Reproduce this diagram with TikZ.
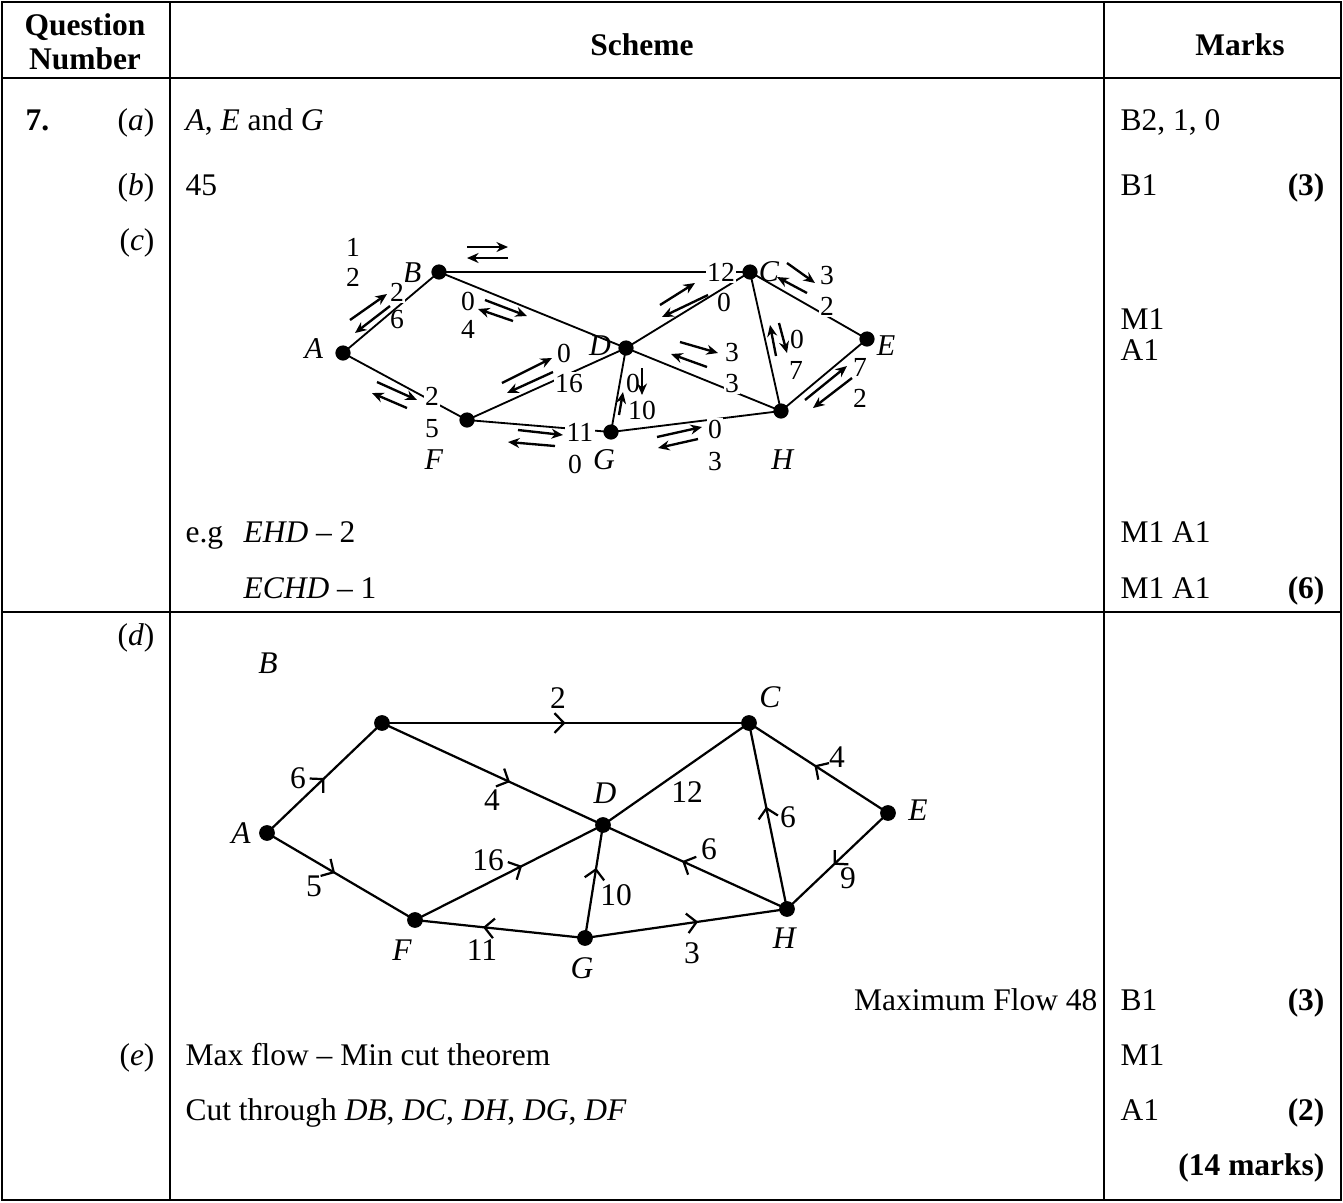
\documentclass[tikz,border=0pt]{standalone}
\usepackage{fontspec}
\setmainfont{Liberation Serif}
\usetikzlibrary{arrows.meta,decorations.markings}
\tikzset{
  tbl/.style={line width=1pt},
  t/.style={anchor=base west, inner sep=0pt, font=\fontsize{12}{14}\selectfont},
  tr/.style={anchor=base east, inner sep=0pt, font=\fontsize{12}{14}\selectfont},
  hd/.style={inner sep=0pt, font=\fontsize{12}{14}\selectfont\bfseries, align=center},
  udot/.style={circle, fill=black, inner sep=0pt, minimum size=5.8pt},
  ldot/.style={circle, fill=black, inner sep=0pt, minimum size=6pt},
  ulab/.style={inner sep=0.6pt, font=\fontsize{10.5}{12}\selectfont},
  uvlab/.style={inner sep=0.6pt, font=\fontsize{11.5}{13}\selectfont},
  uwlab/.style={ulab, fill=white},
  llab/.style={inner sep=0.6pt, font=\fontsize{12}{14}\selectfont},
  uedge/.style={line width=0.7pt},
  ledge/.style={line width=0.85pt},
  farr/.style={line width=0.9pt, -{Stealth[length=4.4pt,width=3.8pt]}},
  midarr/.style={postaction={decorate, decoration={markings,
      mark=at position #1 with {\arrow{Straight Barb[length=3.6pt,width=7.5pt,line width=0.85pt]}}}}}
}
\begin{document}
\begin{tikzpicture}[x=0.381pt,y=-0.381pt]
\useasboundingbox (0,0) rectangle (1343,1202);
% ---------- table ----------
\draw[tbl] (2,2) rectangle (1341,1200);
\draw[tbl] (2,78) -- (1341,78);
\draw[tbl] (2,612) -- (1341,612);
\draw[tbl] (170,2) -- (170,1200);
\draw[tbl] (1104,2) -- (1104,1200);
\node[hd] (hq) at (85,42) {Question\\[-1pt]Number};
\node[hd] (hs) at (642,45) {Scheme};
\node[hd] (hm) at (1240,45) {Marks};
% ---------- column 1 ----------
\node[t, font=\fontsize{12}{14}\selectfont\bfseries] (q7) at (25,130) {7.};
\node[tr] (pa) at (155,130) {(\textit{a})};
\node[tr] (pb) at (155,195) {(\textit{b})};
\node[tr] (pc) at (155,250) {(\textit{c})};
\node[tr] (pd) at (155,645) {(\textit{d})};
\node[tr] (pe) at (155,1065) {(\textit{e})};
% ---------- scheme text ----------
\node[t] (sa) at (185,130) {\textit{A}, \textit{E} and \textit{G}};
\node[t] (sb) at (185,195) {45};
\node[t] (eg) at (185,542) {e.g};
\node[t] (p1) at (243,542) {\textit{EHD} – 2};
\node[t] (p2) at (243,598) {\textit{ECHD} – 1};
\node[tr] (mf) at (1098,1010) {Maximum Flow 48};
\node[t] (mm) at (185,1065) {Max flow – Min cut theorem};
\node[t] (ct) at (185,1120) {Cut through \textit{DB}, \textit{DC}, \textit{DH}, \textit{DG}, \textit{DF}};
% ---------- marks ----------
\node[t] (m1) at (1120,130) {B2, 1, 0};
\node[t] (m2) at (1120,195) {B1};
\node[tr, font=\fontsize{12}{14}\selectfont\bfseries] (m2r) at (1325,195) {(3)};
\node[t] (m3) at (1120,329) {M1};
\node[t] (m4) at (1120,360) {A1};
\node[t] (m5) at (1120,542) {M1 A1};
\node[t] (m6) at (1120,598) {M1 A1};
\node[tr, font=\fontsize{12}{14}\selectfont\bfseries] (m6r) at (1325,598) {(6)};
\node[t] (m7) at (1120,1010) {B1};
\node[tr, font=\fontsize{12}{14}\selectfont\bfseries] (m7r) at (1325,1010) {(3)};
\node[t] (m8) at (1120,1065) {M1};
\node[t] (m9) at (1120,1120) {A1};
\node[tr, font=\fontsize{12}{14}\selectfont\bfseries] (m9r) at (1325,1120) {(2)};
\node[tr, font=\fontsize{12}{14}\selectfont\bfseries] (m10) at (1325,1175) {(14 marks)};
% ---------- upper graph (c) ----------
\node[udot] (uA) at (343,353) {};
\node[udot] (uB) at (439,272) {};
\node[udot] (uC) at (750,272) {};
\node[udot] (uD) at (626,348) {};
\node[udot] (uE) at (867,339) {};
\node[udot] (uF) at (467,420) {};
\node[udot] (uG) at (611,432) {};
\node[udot] (uH) at (781,411) {};
\draw[uedge] (uA.center) -- (uB.center);
\draw[uedge] (uB.center) -- (uC.center);
\draw[uedge] (uB.center) -- (uD.center);
\draw[uedge] (uA.center) -- (uF.center);
\draw[uedge] (uF.center) -- (uD.center);
\draw[uedge] (uF.center) -- (uG.center);
\draw[uedge] (uG.center) -- (uD.center);
\draw[uedge] (uG.center) -- (uH.center);
\draw[uedge] (uD.center) -- (uC.center);
\draw[uedge] (uD.center) -- (uH.center);
\draw[uedge] (uC.center) -- (uH.center);
\draw[uedge] (uC.center) -- (uE.center);
\draw[uedge] (uE.center) -- (uH.center);
% vertex letters
\node[uvlab] (uAl) at (314,349) {\textit{A}};
\node[uvlab] (uBl) at (412,273) {\textit{B}};
\node[uvlab] (uCl) at (769,272) {\textit{C}};
\node[uvlab] (uDl) at (600,346) {\textit{D}};
\node[uvlab] (uEl) at (886,346) {\textit{E}};
\node[uvlab] (uFl) at (434,460) {\textit{F}};
\node[uvlab] (uGl) at (604,460) {\textit{G}};
\node[uvlab] (uHl) at (783,460) {\textit{H}};
% edge numbers
\node[ulab] (n1) at (353,247) {1};
\node[ulab] (n2) at (353,277) {2};
\node[uwlab] (nab1) at (397,292) {2};
\node[ulab] (nab2) at (397,320) {6};
\node[uwlab] (nbd1) at (468,301) {0};
\node[ulab] (nbd2) at (468,329) {4};
\node[uwlab] (naf1) at (432,396) {2};
\node[ulab] (naf2) at (432,429) {5};
\node[ulab] (nfd1) at (564,353) {0};
\node[uwlab] (nfd2) at (569,383) {16};
\node[uwlab] (nfg1) at (580,432) {11};
\node[ulab] (nfg2) at (575,464) {0};
\node[ulab] (ngd1) at (633,383) {0};
\node[ulab] (ngd2) at (642,410) {10};
\node[uwlab] (ngh1) at (715,429) {0};
\node[ulab] (ngh2) at (715,462) {3};
\node[uwlab] (nbc) at (721,272) {12};
\node[ulab] (ndc) at (724,302) {0};
\node[ulab] (ndh1) at (732,352) {3};
\node[uwlab] (ndh2) at (732,383) {3};
\node[ulab] (nch1) at (797,339) {0};
\node[ulab] (nch2) at (796,370) {7};
\node[ulab] (nce1) at (827,276) {3};
\node[uwlab] (nce2) at (827,306) {2};
\node[uwlab] (neh1) at (860,367) {7};
\node[ulab] (neh2) at (860,398) {2};
% flow arrows
\draw[farr] (467,247) -- (508,247);
\draw[farr] (508,258) -- (467,258);
\draw[farr] (350,320) -- (387,294);
\draw[farr] (390,306) -- (355,333);
\draw[farr] (485,300) -- (527,316);
\draw[farr] (513,321) -- (478,309);
\draw[farr] (377,382) -- (417,400);
\draw[farr] (407,408) -- (372,393);
\draw[farr] (502,383) -- (552,358);
\draw[farr] (553,372) -- (507,393);
\draw[farr] (518,430) -- (563,435);
\draw[farr] (555,446) -- (508,442);
\draw[farr] (642,368) -- (642,395);
\draw[farr] (619,415) -- (623,392);
\draw[farr] (657,437) -- (702,427);
\draw[farr] (698,439) -- (658,448);
\draw[farr] (660,305) -- (695,283);
\draw[farr] (708,295) -- (662,317);
\draw[farr] (680,342) -- (718,353);
\draw[farr] (707,367) -- (671,354);
\draw[farr] (776,356) -- (770,325);
\draw[farr] (779,323) -- (787,353);
\draw[farr] (787,263) -- (815,283);
\draw[farr] (807,293) -- (777,277);
\draw[farr] (805,400) -- (847,366);
\draw[farr] (852,378) -- (813,408);
% ---------- lower graph (d) ----------
\node[ldot] (lA) at (267,833) {};
\node[ldot] (lB) at (382,723) {};
\node[ldot] (lC) at (749,723) {};
\node[ldot] (lD) at (603,825) {};
\node[ldot] (lE) at (888,813) {};
\node[ldot] (lF) at (415,920) {};
\node[ldot] (lG) at (585,938) {};
\node[ldot] (lH) at (787,909) {};
\draw[ledge, midarr=0.5] (lA.center) -- (lB.center);
\draw[ledge, midarr=0.5] (lB.center) -- (lC.center);
\draw[ledge, midarr=0.58] (lB.center) -- (lD.center);
\draw[ledge, midarr=0.46] (lA.center) -- (lF.center);
\draw[ledge, midarr=0.57] (lF.center) -- (lD.center);
\draw[ledge, midarr=0.6] (lG.center) -- (lF.center);
\draw[ledge, midarr=0.62] (lG.center) -- (lD.center);
\draw[ledge, midarr=0.56] (lG.center) -- (lH.center);
\draw[ledge, midarr=0.57] (lH.center) -- (lD.center);
\draw[ledge, midarr=0.55] (lH.center) -- (lC.center);
\draw[ledge, midarr=0.53] (lE.center) -- (lC.center);
\draw[ledge, midarr=0.54] (lE.center) -- (lH.center);
\draw[ledge] (lD.center) -- (lC.center);
% letters
\node[llab] (lBl) at (268,663) {\textit{B}};
\node[llab] (lAl) at (241,833) {\textit{A}};
\node[llab] (lCl) at (770,697) {\textit{C}};
\node[llab] (lDl) at (605,793) {\textit{D}};
\node[llab] (lEl) at (918,810) {\textit{E}};
\node[llab] (lFl) at (402,950) {\textit{F}};
\node[llab] (lGl) at (582,968) {\textit{G}};
\node[llab] (lHl) at (785,938) {\textit{H}};
% numbers
\node[llab] (lab) at (298,778) {6};
\node[llab] (lbc) at (558,698) {2};
\node[llab] (lbd) at (492,800) {4};
\node[llab] (laf) at (314,886) {5};
\node[llab] (lfd) at (488,860) {16};
\node[llab] (lgf) at (482,950) {11};
\node[llab] (lgd) at (616,895) {10};
\node[llab] (lgh) at (692,953) {3};
\node[llab] (lhd) at (709,849) {6};
\node[llab] (lhc) at (788,817) {6};
\node[llab] (lec) at (837,757) {4};
\node[llab] (leh) at (848,878) {9};
\node[llab] (ldc) at (687,792) {12};
\end{tikzpicture}
\end{document}
